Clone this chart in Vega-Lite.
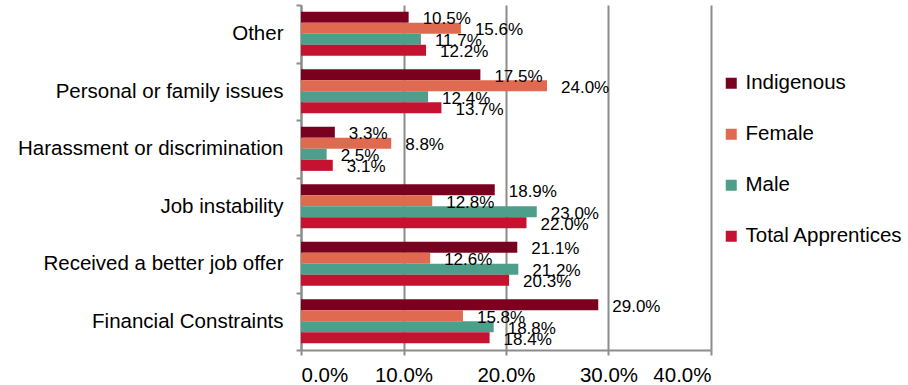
{
  "$schema": "https://vega.github.io/schema/vega-lite/v6.json",
  "autosize": "none",
  "width": 410,
  "height": 345,
  "padding": {"left": 301, "top": 5, "right": 197, "bottom": 35},
  "background": "white",
  "config": {
    "font": "Liberation Sans",
    "view": {"stroke": null}
  },
  "data": {
    "values": [
      {"reason": "Other", "group": "Indigenous", "value": 0.105},
      {"reason": "Other", "group": "Female", "value": 0.156},
      {"reason": "Other", "group": "Male", "value": 0.117},
      {"reason": "Other", "group": "Total Apprentices", "value": 0.122},
      {"reason": "Personal or family issues", "group": "Indigenous", "value": 0.175},
      {"reason": "Personal or family issues", "group": "Female", "value": 0.240},
      {"reason": "Personal or family issues", "group": "Male", "value": 0.124},
      {"reason": "Personal or family issues", "group": "Total Apprentices", "value": 0.137},
      {"reason": "Harassment or discrimination", "group": "Indigenous", "value": 0.033},
      {"reason": "Harassment or discrimination", "group": "Female", "value": 0.088},
      {"reason": "Harassment or discrimination", "group": "Male", "value": 0.025},
      {"reason": "Harassment or discrimination", "group": "Total Apprentices", "value": 0.031},
      {"reason": "Job instability", "group": "Indigenous", "value": 0.189},
      {"reason": "Job instability", "group": "Female", "value": 0.128},
      {"reason": "Job instability", "group": "Male", "value": 0.230},
      {"reason": "Job instability", "group": "Total Apprentices", "value": 0.220},
      {"reason": "Received a better job offer", "group": "Indigenous", "value": 0.211},
      {"reason": "Received a better job offer", "group": "Female", "value": 0.126},
      {"reason": "Received a better job offer", "group": "Male", "value": 0.212},
      {"reason": "Received a better job offer", "group": "Total Apprentices", "value": 0.203},
      {"reason": "Financial Constraints", "group": "Indigenous", "value": 0.290},
      {"reason": "Financial Constraints", "group": "Female", "value": 0.158},
      {"reason": "Financial Constraints", "group": "Male", "value": 0.188},
      {"reason": "Financial Constraints", "group": "Total Apprentices", "value": 0.184}
    ]
  },
  "encoding": {
    "y": {
      "field": "reason",
      "type": "nominal",
      "sort": ["Other", "Personal or family issues", "Harassment or discrimination", "Job instability", "Received a better job offer", "Financial Constraints"],
      "scale": {"paddingInner": 0, "paddingOuter": 0},
      "axis": {
        "title": null,
        "tickBand": "extent",
        "domainColor": "#8c8c8c",
        "domainWidth": 2,
        "tickColor": "#8c8c8c",
        "tickWidth": 2,
        "tickSize": 5,
        "labelFontSize": 20.5,
        "labelColor": "#000000",
        "labelPadding": 13,
        "labelLimit": 400
      }
    },
    "yOffset": {
      "field": "group",
      "type": "nominal",
      "sort": ["Indigenous", "Female", "Male", "Total Apprentices"],
      "scale": {"paddingInner": 0, "paddingOuter": 0.6}
    },
    "x": {
      "field": "value",
      "type": "quantitative",
      "scale": {"domain": [0, 0.4], "nice": false},
      "axis": {
        "title": null,
        "format": ".1%",
        "values": [0, 0.1, 0.2, 0.3, 0.4],
        "grid": true,
        "gridColor": "#8c8c8c",
        "gridWidth": 2,
        "domainColor": "#8c8c8c",
        "domainWidth": 2,
        "tickColor": "#8c8c8c",
        "tickWidth": 2,
        "tickSize": 5,
        "labelFontSize": 20.5,
        "labelColor": "#000000",
        "labelPadding": 10
      }
    }
  },
  "layer": [
    {
      "mark": {"type": "bar", "cornerRadius": 0},
      "encoding": {
        "color": {
          "field": "group",
          "type": "nominal",
          "sort": ["Indigenous", "Female", "Male", "Total Apprentices"],
          "scale": {
            "domain": ["Indigenous", "Female", "Male", "Total Apprentices"],
            "range": ["#7a0020", "#e06a50", "#4d9e8b", "#c41230"]
          },
          "legend": {
            "title": null,
            "orient": "none",
            "legendX": 420,
            "legendY": 68,
            "symbolType": "square",
            "symbolSize": 121,
            "symbolStrokeWidth": 0,
            "labelFontSize": 20.5,
            "labelColor": "#000000",
            "labelOffset": 4,
            "rowPadding": 30,
            "labelLimit": 300
          }
        }
      }
    },
    {
      "mark": {"type": "text", "align": "left", "baseline": "middle", "dx": 14, "dy": 2, "fontSize": 17, "color": "#000000"},
      "encoding": {
        "text": {"field": "value", "type": "quantitative", "format": ".1%"}
      }
    }
  ]
}
